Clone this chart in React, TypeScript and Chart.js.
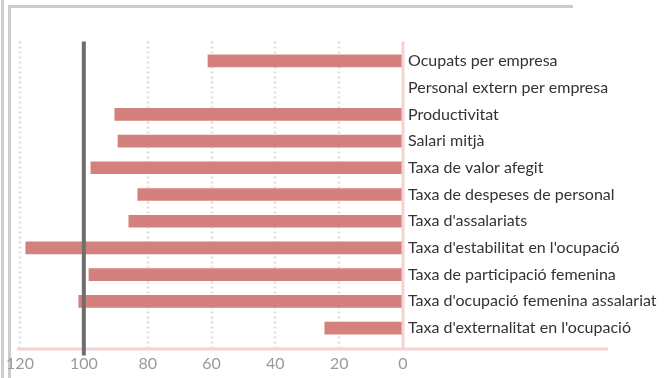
import React, { useEffect, useRef } from "react";
import { Chart, registerables } from "chart.js";

Chart.register(...registerables);

const categories = [
  "Ocupats per empresa",
  "Personal extern per empresa",
  "Productivitat",
  "Salari mitjà",
  "Taxa de valor afegit",
  "Taxa de despeses de personal",
  "Taxa d'assalariats",
  "Taxa d'estabilitat en l'ocupació",
  "Taxa de participació femenina",
  "Taxa d'ocupació femenina assalariat",
  "Taxa d'externalitat en l'ocupació",
];

const values: (number | null)[] = [61.1, null, 90.3, 89.3, 97.8, 83.1, 85.9, 118.2, 98.4, 101.6, 24.5];

const xTicks = [120, 100, 80, 60, 40, 20, 0];
const gridValues = [120, 100, 80, 60, 40, 20];
const referenceValue = 100;

const decor = {
  id: "decor",
  beforeDatasetsDraw(chart: any) {
    const { ctx, chartArea, scales } = chart;
    const x = scales.x;
    ctx.save();
    ctx.strokeStyle = "#e2e2e2";
    ctx.lineWidth = 3;
    ctx.setLineDash([2, 3]);
    for (const v of gridValues) {
      const px = Math.round(x.getPixelForValue(v));
      ctx.beginPath();
      ctx.moveTo(px, chartArea.top - 6);
      ctx.lineTo(px, chartArea.bottom + 6);
      ctx.stroke();
    }
    ctx.restore();
  },
  afterDatasetsDraw(chart: any) {
    const { ctx, chartArea, scales } = chart;
    const x = scales.x;
    ctx.save();
    ctx.strokeStyle = "#f3d3d2";
    ctx.lineWidth = 3;
    const zx = x.getPixelForValue(0);
    ctx.beginPath();
    ctx.moveTo(zx, chartArea.top - 6);
    ctx.lineTo(zx, chartArea.bottom + 7);
    ctx.stroke();
    const by = chartArea.bottom + 7.5;
    ctx.beginPath();
    ctx.moveTo(chartArea.left - 3, by);
    ctx.lineTo(608, by);
    ctx.stroke();
    const rx = x.getPixelForValue(referenceValue);
    ctx.strokeStyle = "#6e6e6e";
    ctx.lineWidth = 4;
    ctx.beginPath();
    ctx.moveTo(rx, chartArea.top - 6);
    ctx.lineTo(rx, chartArea.bottom + 14);
    ctx.stroke();
    ctx.restore();
  },
};

export default function App() {
  const ref = useRef<HTMLCanvasElement>(null);
  useEffect(() => {
    if (!ref.current) return;
    const chart = new Chart(ref.current, {
      type: "bar",
      data: {
        labels: categories,
        datasets: [
          {
            data: values as any,
            backgroundColor: "#d4817d",
            barThickness: 12,
          },
        ],
      },
      options: {
        indexAxis: "y",
        animation: false,
        responsive: false,
        maintainAspectRatio: false,
        layout: { padding: { top: 47.6, left: 20, right: 0, bottom: 0 } },
        plugins: { legend: { display: false }, tooltip: { enabled: false } },
        scales: {
          x: {
            reverse: true,
            min: 0,
            max: 120,
            afterFit(scale: any) {
              scale.height = 36.6;
              scale.paddingLeft = 0;
              scale.paddingRight = 0;
            },
            afterBuildTicks(scale: any) {
              scale.ticks = xTicks.map((v) => ({ value: v }));
            },
            grid: { display: false, drawTicks: false },
            border: { display: false },
            ticks: {
              color: "#9a9a9a",
              padding: 13,
              font: { family: "Lato", size: 16 },
              maxRotation: 0,
            },
          },
          y: {
            position: "right",
            afterFit(scale: any) {
              scale.width = 262;
              scale.paddingTop = 0;
              scale.paddingBottom = 0;
            },
            grid: { display: false, drawTicks: false },
            border: { display: false },
            ticks: {
              color: "#333333",
              padding: 5,
              autoSkip: false,
              font: { family: "Lato", size: 16 },
            },
          },
        },
      },
      plugins: [decor],
    });
    return () => chart.destroy();
  }, []);

  const line = "#cccccc";
  return (
    <div style={{ position: "fixed", left: 0, top: 0, width: 665, height: 378, background: "#fff", overflow: "hidden" }}>
      <div style={{ position: "absolute", left: 1, top: 0, width: 3, height: 378, background: line }} />
      <div style={{ position: "absolute", left: 8, top: 5, width: 3, height: 373, background: line }} />
      <div style={{ position: "absolute", left: 8, top: 5, width: 565, height: 2.5, background: line }} />
      <canvas ref={ref} width={665} height={378} style={{ position: "absolute", left: 0, top: 0 }} />
    </div>
  );
}
